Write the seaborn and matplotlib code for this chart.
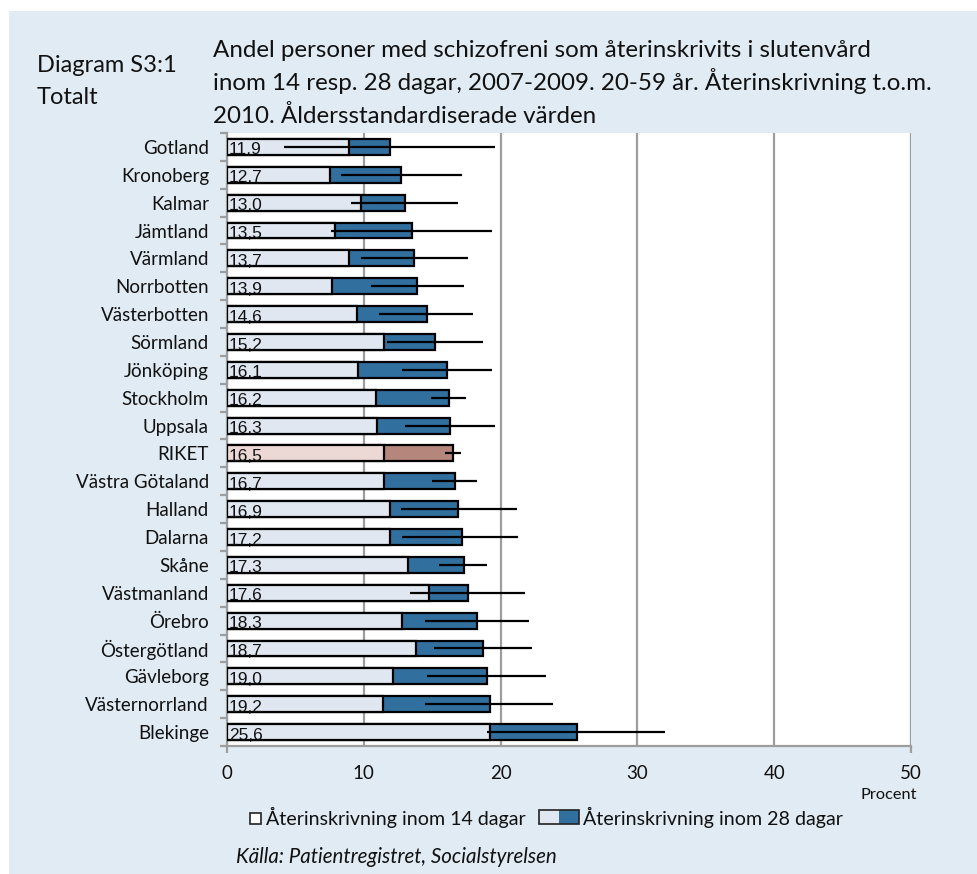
import numpy as np
import pandas as pd
import matplotlib
matplotlib.use("Agg")
import matplotlib.pyplot as plt
from matplotlib.patches import Rectangle
import seaborn as sns

# Readmission within 14 and 28 days, age-standardised, per county
regions = ["Gotland", "Kronoberg", "Kalmar", "Jämtland", "Värmland", "Norrbotten",
           "Västerbotten", "Sörmland", "Jönköping", "Stockholm", "Uppsala", "RIKET",
           "Västra Götaland", "Halland", "Dalarna", "Skåne", "Västmanland", "Örebro",
           "Östergötland", "Gävleborg", "Västernorrland", "Blekinge"]
within_28 = [11.9, 12.7, 13.0, 13.5, 13.7, 13.9, 14.6, 15.2, 16.1, 16.2, 16.3, 16.5,
             16.7, 16.9, 17.2, 17.3, 17.6, 18.3, 18.7, 19.0, 19.2, 25.6]
within_14 = [8.9, 7.5, 9.8, 7.9, 8.9, 7.7, 9.5, 11.5, 9.6, 10.9, 11.0, 11.5,
             11.5, 11.9, 11.9, 13.2, 14.8, 12.8, 13.8, 12.1, 11.4, 19.2]
ci_low = [4.2, 8.3, 9.1, 7.6, 9.8, 10.5, 11.1, 11.7, 12.8, 14.9, 13.0, 15.9,
          15.0, 12.7, 12.8, 15.5, 13.4, 14.5, 15.1, 14.6, 14.5, 19.0]
ci_high = [19.6, 17.2, 16.9, 19.4, 17.6, 17.3, 18.0, 18.7, 19.4, 17.5, 19.6, 17.1,
           18.3, 21.2, 21.3, 19.0, 21.8, 22.1, 22.3, 23.3, 23.8, 32.0]
x_ticks = [0, 10, 20, 30, 40, 50]

title_lines = ["Andel personer med schizofreni som återinskrivits i slutenvård",
               "inom 14 resp. 28 dagar, 2007-2009. 20-59 år. Återinskrivning t.o.m.",
               "2010. Åldersstandardiserade värden"]
label_14 = "Återinskrivning inom 14 dagar"
label_28 = "Återinskrivning inom 28 dagar"
source = "Källa: Patientregistret, Socialstyrelsen"

W, H = 977, 874
PANEL = "#e1ebf3"
BLUE_DARK, BLUE_LIGHT = "#31709e", "#e0e7f0"
RED_DARK, RED_LIGHT = "#b4867c", "#ecd9d5"
GRID = "#9d9d9d"
INK = "#111111"

sns.set_theme(style="white")
plt.rcParams["font.family"] = ["Lato", "DejaVu Sans"]

fig = plt.figure(figsize=(W / 100, H / 100), dpi=100, facecolor="white")


def fx(x):
    return x / W


def fy(y):
    return 1 - y / H


# light blue backdrop behind the whole chart
fig.patches.append(Rectangle((fx(9), 0), 1 - fx(9), fy(11), transform=fig.transFigure,
                             facecolor=PANEL, edgecolor="none", zorder=-10))

ax = fig.add_axes([fx(227), fy(746), fx(911) - fx(227), fy(133) - fy(746)])
ax.set_facecolor("white")

df = pd.DataFrame({"region": regions, "d28": within_28, "d14": within_14})
dark = {r: (RED_DARK if r == "RIKET" else BLUE_DARK) for r in regions}
light = {r: (RED_LIGHT if r == "RIKET" else BLUE_LIGHT) for r in regions}

sns.barplot(data=df, y="region", x="d28", hue="region", palette=dark, order=regions,
            legend=False, width=0.57, edgecolor="black", linewidth=1.6,
            saturation=1, ax=ax, zorder=3)
sns.barplot(data=df, y="region", x="d14", hue="region", palette=light, order=regions,
            legend=False, width=0.57, edgecolor="black", linewidth=1.6,
            saturation=1, ax=ax, zorder=3)

ypos = np.arange(len(regions))
ax.hlines(ypos, ci_low, ci_high, color="black", lw=1.6, zorder=5)

for i, v in enumerate(within_28):
    ax.text(0.15, i + 0.27, f"{v:.1f}".replace(".", ","), ha="left", va="baseline",
            fontsize=12.5, family="Liberation Sans", color=INK, zorder=6)

ax.set_xlim(0, 50)
ax.set_ylim(len(regions) - 0.5, -0.5)
ax.set_xticks(x_ticks)
ax.set_xticklabels([str(t) for t in x_ticks])
ax.grid(axis="x", color=GRID, lw=1.6)
ax.grid(axis="y", visible=False)
ax.set_axisbelow(True)
ax.set_xlabel("")
ax.set_ylabel("")

for side in ("top", "right"):
    ax.spines[side].set_visible(False)
for side in ("left", "bottom"):
    ax.spines[side].set_color(GRID)
    ax.spines[side].set_linewidth(1.6)

ax.set_yticks(ypos)
ax.set_yticklabels(regions)
ax.set_yticks(np.arange(-0.5, len(regions), 1), minor=True)
ax.tick_params(axis="y", which="both", right=False, left=True)
ax.tick_params(axis="y", which="major", length=0, pad=13, labelsize=13.5, labelcolor=INK)
ax.tick_params(axis="y", which="minor", length=5, width=1.6, color=GRID)
ax.tick_params(axis="x", which="both", top=False, bottom=True, labeltop=False)
ax.tick_params(axis="x", which="major", length=5, width=1.6, color=GRID, pad=9,
               labelsize=13.5, labelcolor=INK)
for k, tick in enumerate(ax.xaxis.get_major_ticks()):
    tick.tick1line.set_visible(k in (0, len(x_ticks) - 1))

# titles
fig.text(fx(37), fy(72), "Diagram S3:1", ha="left", va="baseline", fontsize=17, color=INK)
fig.text(fx(37), fy(104), "Totalt", ha="left", va="baseline", fontsize=17, color=INK)
for line, base in zip(title_lines, [57, 90, 123]):
    fig.text(fx(213), fy(base), line, ha="left", va="baseline", fontsize=17.4, color=INK)

fig.text(fx(917), fy(795), "Procent", ha="right", va="center", fontsize=11.8, color=INK)

# legend
fig.patches.append(Rectangle((fx(250), fy(824)), fx(11), 11 / H, transform=fig.transFigure,
                             facecolor="white", edgecolor="#222222", lw=1.2))
fig.text(fx(266), fy(817), label_14, ha="left", va="center", fontsize=14.1, color=INK)
fig.patches.append(Rectangle((fx(539), fy(824)), fx(20), 14 / H, transform=fig.transFigure,
                             facecolor=BLUE_LIGHT, edgecolor="none"))
fig.patches.append(Rectangle((fx(559), fy(824)), fx(20), 14 / H, transform=fig.transFigure,
                             facecolor=BLUE_DARK, edgecolor="none"))
fig.patches.append(Rectangle((fx(539), fy(824)), fx(40), 14 / H, transform=fig.transFigure,
                             facecolor="none", edgecolor="#222222", lw=1.2))
fig.text(fx(583), fy(817), label_28, ha="left", va="center", fontsize=14.1, color=INK)

fig.text(fx(236), fy(857), source, ha="left", va="center", fontsize=14.8,
         style="italic", color=INK)

fig.savefig("out.png", dpi=100, facecolor="white")
